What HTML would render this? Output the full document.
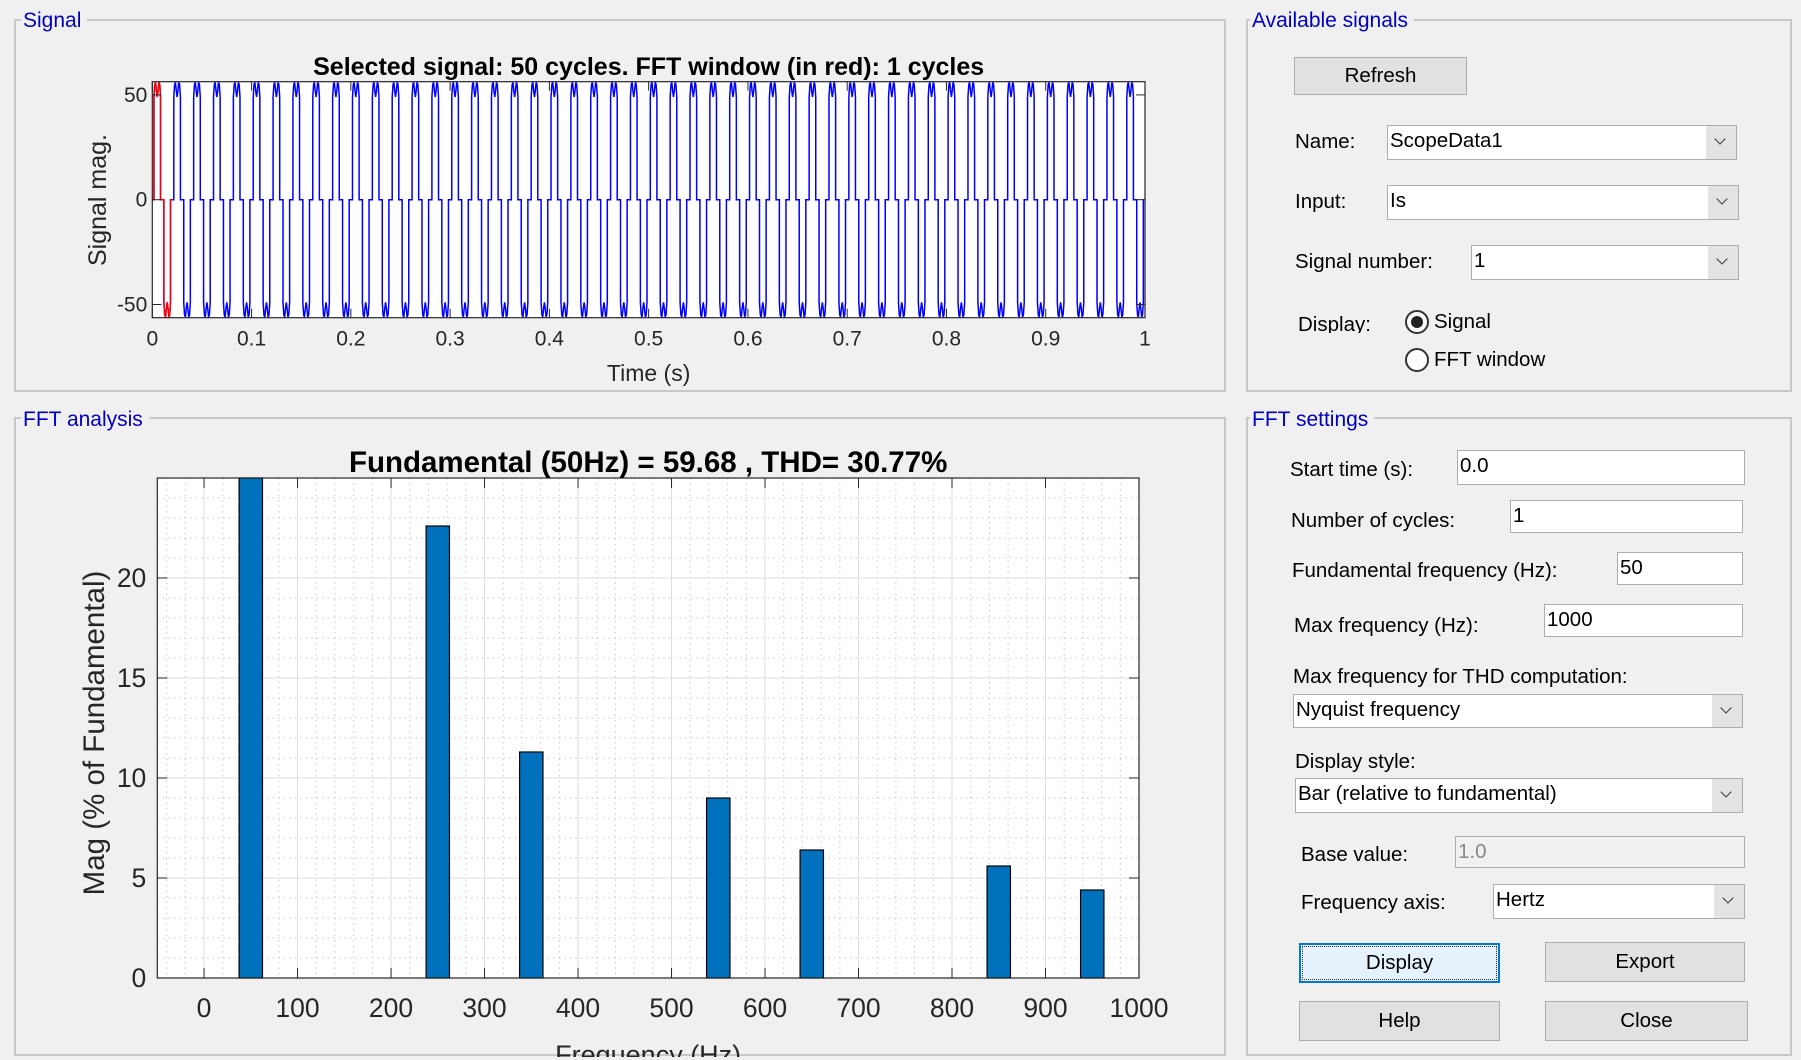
<!DOCTYPE html>
<html><head><meta charset="utf-8"><style>
body{margin:0;width:1801px;height:1060px;background:#f0f0f0;font-family:"Liberation Sans",sans-serif;position:relative;overflow:hidden}
.panel{position:absolute;border:2px solid #c8c8c8;box-sizing:border-box}
.ptitle{position:absolute;background:#f0f0f0;color:#0000c0;font-size:21px;padding:0 6px 0 2px;line-height:22px}
.lbl{position:absolute;font-size:20.5px;color:#000;line-height:22px;white-space:nowrap}
.box{position:absolute;background:#fff;border:1px solid #adadad;box-sizing:border-box;font-size:20.5px;line-height:22px;padding:4px 2px;white-space:nowrap}
.combo .arr{position:absolute;right:0;top:0;bottom:0;width:30px;background:#e3e3e3;}
.combo .arr:after{content:"";position:absolute;left:10px;top:9px;width:7px;height:7px;border-right:1.5px solid #333;border-bottom:1.5px solid #333;transform:rotate(45deg)}
.btn{position:absolute;background:#e1e1e1;border:1px solid #adadad;box-sizing:border-box;font-size:20.5px;text-align:center;display:flex;align-items:center;justify-content:center}
.radio{position:absolute;width:24px;height:24px;border:2px solid #333;border-radius:50%;box-sizing:border-box;background:#fff}
svg{position:absolute;left:0;top:0}
</style></head><body>
<div class="panel" style="left:14px;top:19px;width:1212px;height:373px"></div>
<div class="ptitle" style="left:21px;top:10px">Signal</div>
<div class="panel" style="left:1246px;top:19px;width:546px;height:373px"></div>
<div class="ptitle" style="left:1250px;top:10px">Available signals</div>
<div class="panel" style="left:14px;top:417px;width:1212px;height:639px"></div>
<div class="ptitle" style="left:21px;top:409px">FFT analysis</div>
<div class="panel" style="left:1246px;top:417px;width:546px;height:639px"></div>
<div class="ptitle" style="left:1250px;top:409px">FFT settings</div>

<div class="btn" style="left:1294px;top:57px;width:173px;height:38px">Refresh</div>
<div class="lbl" style="left:1295px;top:131px">Name:</div>
<div class="box combo" style="left:1387px;top:125px;width:350px;height:35px">ScopeData1<div class="arr"></div></div>
<div class="lbl" style="left:1295px;top:191px">Input:</div>
<div class="box combo" style="left:1387px;top:185px;width:352px;height:35px">Is<div class="arr"></div></div>
<div class="lbl" style="left:1295px;top:251px">Signal number:</div>
<div class="box combo" style="left:1471px;top:245px;width:268px;height:35px">1<div class="arr"></div></div>
<div class="lbl" style="left:1298px;top:314px;height:19px;overflow:hidden">Display:</div>
<div class="radio" style="left:1405px;top:310px"><div style="position:absolute;left:4px;top:4px;width:12px;height:12px;border-radius:50%;background:#222"></div></div>
<div class="lbl" style="left:1434px;top:311px">Signal</div>
<div class="radio" style="left:1405px;top:348px"></div>
<div class="lbl" style="left:1434px;top:349px">FFT window</div>

<div class="lbl" style="left:1290px;top:459px">Start time (s):</div>
<div class="box" style="left:1457px;top:450px;width:288px;height:35px">0.0</div>
<div class="lbl" style="left:1291px;top:510px">Number of cycles:</div>
<div class="box" style="left:1510px;top:500px;width:233px;height:33px">1</div>
<div class="lbl" style="left:1292px;top:560px">Fundamental frequency (Hz):</div>
<div class="box" style="left:1617px;top:552px;width:126px;height:33px">50</div>
<div class="lbl" style="left:1294px;top:615px">Max frequency (Hz):</div>
<div class="box" style="left:1544px;top:604px;width:199px;height:33px">1000</div>
<div class="lbl" style="left:1293px;top:666px">Max frequency for THD computation:</div>
<div class="box combo" style="left:1293px;top:694px;width:450px;height:34px">Nyquist frequency<div class="arr"></div></div>
<div class="lbl" style="left:1295px;top:751px">Display style:</div>
<div class="box combo" style="left:1295px;top:778px;width:448px;height:35px">Bar (relative to fundamental)<div class="arr"></div></div>
<div class="lbl" style="left:1301px;top:844px">Base value:</div>
<div class="box" style="left:1455px;top:836px;width:290px;height:32px;background:#f0f0f0;color:#888">1.0</div>
<div class="lbl" style="left:1301px;top:892px">Frequency axis:</div>
<div class="box combo" style="left:1493px;top:884px;width:252px;height:35px">Hertz<div class="arr"></div></div>
<div class="btn" style="left:1299px;top:943px;width:201px;height:40px;background:#e5f1fb;border:2px solid #0078d7;outline:1px dotted #333;outline-offset:-4px">Display</div>
<div class="btn" style="left:1545px;top:942px;width:200px;height:40px">Export</div>
<div class="btn" style="left:1299px;top:1001px;width:201px;height:40px">Help</div>
<div class="btn" style="left:1545px;top:1001px;width:203px;height:40px">Close</div>

<svg id="chart" width="1801" height="1060"></svg>
<script>
// Signal chart data (one cycle shape, repeated)
const cycleAngles = [0,30,30,45,60,75,90,105,120,135,150,150,210,210,225,240,255,270,285,300,315,330,330,360];
const cycleValues = [0,0,49,55,56,52,49,52,56,55,49,0,0,-49,-55,-56,-52,-49,-52,-56,-55,-49,0,0];
const numCycles = 50;
const fundamentalHz = 50;
const timeTicks = [0,0.1,0.2,0.3,0.4,0.5,0.6,0.7,0.8,0.9,1];
const timeTickLabels = ["0","0.1","0.2","0.3","0.4","0.5","0.6","0.7","0.8","0.9","1"];
const sigTicks = [50,0,-50];
// FFT chart data
const harmonicFreqs = [50,250,350,550,650,850,950];
const harmonicMags = [100,22.6,11.3,9.0,6.4,5.6,4.4];
const freqTicks = [0,100,200,300,400,500,600,700,800,900,1000];
const magTicks = [0,5,10,15,20];

const NS="http://www.w3.org/2000/svg";
const svg=document.getElementById('chart');
function mk(tag,attrs,parent){const e=document.createElementNS(NS,tag);for(const k in attrs)e.setAttribute(k,attrs[k]);(parent||svg).appendChild(e);return e;}
function txt(s,attrs,name){const e=mk('text',attrs);e.textContent=s;

return e;}

// ---- Signal plot
const sL=152.3,sR=1145,sT=81.7,sB=317.7;
const sx=t=>sL+(t-0)/(1-0)*(sR-sL);
const sy=v=>sB-(v+56.3)/(112.6)*(sB-sT);
const sbg=mk('rect',{x:sL,y:sT,width:sR-sL,height:sB-sT,fill:'#fff'});


function cyclePts(c){const T=1/fundamentalHz;let p=[];for(let i=0;i<cycleAngles.length;i++){const t=(c+cycleAngles[i]/360)*T;p.push(sx(t).toFixed(2)+','+sy(cycleValues[i]).toFixed(2));}return p;}
let all=[];for(let c=0;c<numCycles;c++)all=all.concat(cyclePts(c));
const blue=mk('polyline',{points:all.join(' '),fill:'none',stroke:'#0000ff','stroke-width':1.5});


const red=mk('polyline',{points:cyclePts(0).join(' '),fill:'none',stroke:'#ff0000','stroke-width':1.5});


const sframe=mk('rect',{x:sL,y:sT,width:sR-sL,height:sB-sT,fill:'none',stroke:'#262626','stroke-width':1.2});


timeTicks.forEach((t,i)=>{const x=sx(t);
 mk('line',{x1:x,x2:x,y1:sB,y2:sB-9,stroke:'#262626'});mk('line',{x1:x,x2:x,y1:sT,y2:sT+9,stroke:'#262626'});
 txt(timeTickLabels[i],{x:x,y:sB+28,'font-size':21,'text-anchor':'middle',fill:'#262626'},'time-tick-label');});
sigTicks.forEach(v=>{const y=sy(v);
 mk('line',{x1:sL,x2:sL+9,y1:y,y2:y,stroke:'#262626'});mk('line',{x1:sR,x2:sR-9,y1:y,y2:y,stroke:'#262626'});
 txt(String(v),{x:sL-5,y:y+7,'font-size':21,'text-anchor':'end',fill:'#262626'},'signal-tick-label');});
txt('Selected signal: 50 cycles. FFT window (in red): 1 cycles',{x:(sL+sR)/2,y:75,'font-size':25,'font-weight':'bold','text-anchor':'middle',fill:'#000'},'signal-chart-title');
txt('Time (s)',{x:(sL+sR)/2,y:381,'font-size':23,'text-anchor':'middle',fill:'#262626'},'time-axis-title');
txt('Signal mag.',{x:0,y:0,'font-size':25,'text-anchor':'middle',fill:'#262626',transform:'translate(106,200) rotate(-90)'},'signal-axis-title');

// ---- FFT plot
const fL=157.3,fR=1139,fT=478,fB=978;
const fx=f=>fL+(f+50)/1050*(fR-fL);
const fy=v=>fB-Math.min(v,25)/25*(fB-fT);
const fbg=mk('rect',{x:fL,y:fT,width:fR-fL,height:fB-fT,fill:'#fff'});


for(let f=-40;f<1000;f+=20){if(f%100===0)continue;mk('line',{x1:fx(f),x2:fx(f),y1:fT,y2:fB,stroke:'#c8c8c8','stroke-dasharray':'1.5,4'});}
for(let v=1;v<25;v++){if(v%5===0)continue;mk('line',{x1:fL,x2:fR,y1:fy(v),y2:fy(v),stroke:'#c8c8c8','stroke-dasharray':'1.5,4'});}
freqTicks.forEach(f=>mk('line',{x1:fx(f),x2:fx(f),y1:fT,y2:fB,stroke:'#dcdcdc'}));
magTicks.forEach(v=>mk('line',{x1:fL,x2:fR,y1:fy(v),y2:fy(v),stroke:'#dcdcdc'}));
harmonicFreqs.forEach((f,i)=>{const r=mk('rect',{x:fx(f-12.5),y:fy(harmonicMags[i]),width:fx(f+12.5)-fx(f-12.5),height:fB-fy(harmonicMags[i]),fill:'#0072bd',stroke:'#000','stroke-width':1.2});
 
 });
const fframe=mk('rect',{x:fL,y:fT,width:fR-fL,height:fB-fT,fill:'none',stroke:'#262626','stroke-width':1.2});


freqTicks.forEach(f=>{const x=fx(f);
 mk('line',{x1:x,x2:x,y1:fB,y2:fB-10,stroke:'#262626'});mk('line',{x1:x,x2:x,y1:fT,y2:fT+10,stroke:'#262626'});
 txt(String(f),{x:x,y:fB+39,'font-size':26.5,'text-anchor':'middle',fill:'#262626'},'frequency-tick-label');});
magTicks.forEach(v=>{const y=fy(v);
 mk('line',{x1:fL,x2:fL+10,y1:y,y2:y,stroke:'#262626'});mk('line',{x1:fR,x2:fR-10,y1:y,y2:y,stroke:'#262626'});
 txt(String(v),{x:fL-11,y:y+9,'font-size':26.5,'text-anchor':'end',fill:'#262626'},'magnitude-tick-label');});
txt('Fundamental (50Hz) = 59.68 , THD= 30.77%',{x:(fL+fR)/2,y:472,'font-size':29.5,'font-weight':'bold','text-anchor':'middle',fill:'#000'},'fft-chart-title');
const cp=mk('clipPath',{id:'clipb'});
mk('rect',{x:0,y:0,width:1801,height:1057},cp);
txt('Frequency (Hz)',{x:(fL+fR)/2,y:1064,'font-size':27,'text-anchor':'middle',fill:'#262626','clip-path':'url(#clipb)'},'frequency-axis-title');
txt('Mag (% of Fundamental)',{x:0,y:0,'font-size':29.5,'text-anchor':'middle',fill:'#262626',transform:'translate(104,733) rotate(-90)'},'magnitude-axis-title');
</script>
</body></html>
